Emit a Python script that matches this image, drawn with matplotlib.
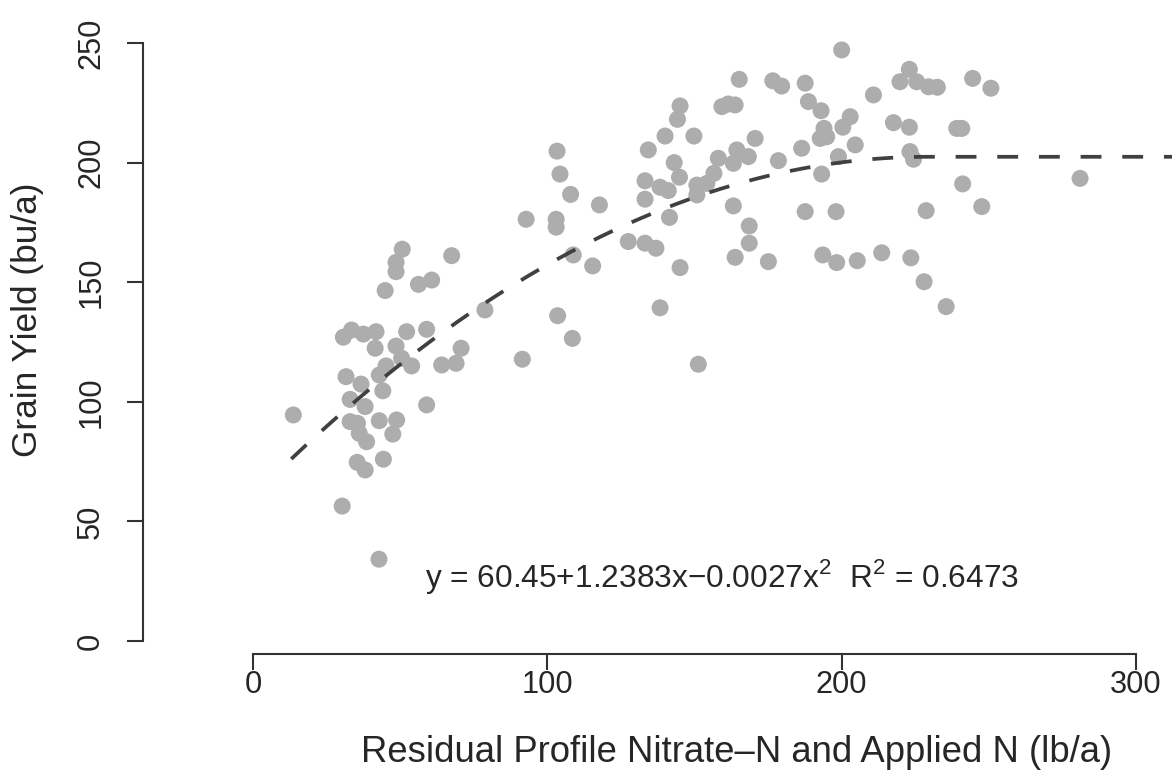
import matplotlib
matplotlib.use("Agg")
import matplotlib.pyplot as plt
from matplotlib import font_manager
import numpy as np

# ---- data ----
x_n = [50.7, 48.6, 48.6, 67.5, 44.9, 56.2, 60.7, 78.8, 30.7, 33.5,
       37.5, 41.8, 52.2, 59.0, 41.5, 48.6, 70.7, 50.5, 53.9, 64.1,
       69.0, 45.2, 42.9, 31.6, 36.7, 44.1, 33.0, 38.1, 59.0, 13.7,
       33.0, 35.5, 42.9, 48.8, 36.1, 47.5, 38.6, 44.3, 35.4, 38.1,
       30.3, 42.8,
       104.3, 133.2, 144.9, 138.3, 141.1, 150.8, 150.8, 107.9, 117.7, 133.2,
       92.8, 103.0, 103.0, 141.5, 127.5, 133.2, 136.9, 108.8, 115.4, 145.1,
       138.3, 103.5, 108.5, 91.5, 151.3, 103.3,
       200.0, 165.2, 176.6, 179.6, 187.6, 145.1, 144.2, 159.3, 161.5, 163.8,
       188.7, 193.0, 140.0, 149.8, 134.3, 170.6, 186.4, 194.0, 192.7, 194.9,
       143.1, 158.1, 164.4, 163.2, 168.3, 178.5, 154.2, 156.6, 163.2, 168.6,
       168.6, 193.2, 187.6, 198.1, 163.8, 175.1, 193.6, 198.3,
       223.0, 219.8, 225.5, 229.5, 232.5, 244.5, 250.7, 210.8, 202.9, 200.4,
       217.6, 223.0, 239.1, 240.8, 204.6, 198.9, 223.2, 224.4, 241.1, 228.7,
       247.6, 205.3, 213.6, 223.5, 228.0, 235.5, 281.0]
y_yield = [163.8, 158.3, 154.4, 161.1, 146.5, 149.1, 150.9, 138.4, 127.0, 130.0,
           128.3, 129.3, 129.3, 130.3, 122.4, 123.3, 122.4, 118.2, 115.0, 115.4,
           116.1, 115.0, 111.2, 110.5, 107.4, 104.6, 101.0, 98.0, 98.7, 94.5,
           91.7, 91.0, 92.1, 92.4, 86.8, 86.5, 83.3, 76.0, 74.7, 71.5,
           56.4, 34.2,
           195.2, 192.4, 193.9, 189.7, 188.3, 190.6, 186.5, 186.7, 182.3, 184.7,
           176.3, 176.3, 173.0, 177.1, 167.0, 166.3, 164.2, 161.4, 156.8, 156.1,
           139.3, 136.0, 126.5, 117.8, 115.7, 204.8,
           247.1, 234.8, 234.2, 232.0, 233.2, 223.7, 218.1, 223.4, 224.5, 224.1,
           225.5, 221.7, 211.1, 211.1, 205.3, 210.1, 206.0, 214.3, 210.1, 210.8,
           200.0, 201.8, 205.3, 199.7, 202.5, 200.8, 191.3, 195.5, 181.9, 173.5,
           166.3, 195.2, 179.5, 179.5, 160.4, 158.6, 161.4, 158.2,
           239.0, 233.8, 233.8, 231.7, 231.5, 235.2, 231.1, 228.3, 219.2, 214.8,
           216.7, 214.8, 214.3, 214.3, 207.4, 202.5, 204.6, 201.4, 191.1, 179.9,
           181.6, 159.0, 162.3, 160.2, 150.2, 139.8, 193.4]

# fitted quadratic-plateau model (from the equation shown)
b0, b1, b2 = 60.45, 1.2383, -0.0027
fit_start, fit_end = 13.0, 330.0
equation = "y = 60.45+1.2383x\u22120.0027x$^2$  R$^2$ = 0.6473"

x_ticks = [0, 100, 200, 300]
y_ticks = [0, 50, 100, 150, 200, 250]
x_label = "Residual Profile Nitrate\u2013N and Applied N (lb/a)"
y_label = "Grain Yield (bu/a)"

# ---- style ----
names = {f.name for f in font_manager.fontManager.ttflist}
narrow = 'Liberation Sans Narrow' in names
fam = 'Liberation Sans Narrow' if narrow else 'Liberation Sans'
plt.rcParams['font.family'] = [fam, 'DejaVu Sans']
plt.rcParams['mathtext.fontset'] = 'custom'
plt.rcParams['mathtext.rm'] = fam
plt.rcParams['lines.scale_dashes'] = False
k = 1.0 if narrow else 0.82
txt = '#262626'
axc = '#333333'

fig = plt.figure(figsize=(11.72, 7.83), dpi=100)
W, H = 1172, 783
L, R, B, T = 143, 1172, 654, 20
ax = fig.add_axes([L / W, 1 - B / H, (R - L) / W, (B - T) / H])

# pixel mapping: x=0 -> 253, x=300 -> 1136 ; y=0 -> 641, y=250 -> 43
sx = (1136 - 253) / 300.0
sy = (641 - 43) / 250.0
ax.set_xlim((L - 253) / sx, (R - 253) / sx)
ax.set_ylim((641 - B) / sy, (641 - T) / sy)

ax.scatter(x_n, y_yield, s=150, color='#adadad', edgecolors='none', zorder=2)

xf = np.linspace(fit_start, fit_end, 400)
xmax = -b1 / (2 * b2)
yf = np.where(xf < xmax, b0 + b1 * xf + b2 * xf ** 2, b0 + b1 * xmax + b2 * xmax ** 2)
ax.plot(xf, yf, color='#404040', lw=2.7, dashes=(15, 15), zorder=3,
        solid_capstyle='butt', dash_capstyle='butt')

for s in ['top', 'right']:
    ax.spines[s].set_visible(False)
ax.spines['left'].set_bounds(0, 250)
ax.spines['bottom'].set_bounds(0, 300)
for s in ['left', 'bottom']:
    ax.spines[s].set_color(axc)
    ax.spines[s].set_linewidth(1.5)

ax.set_xticks(x_ticks)
ax.set_yticks(y_ticks)
ax.tick_params(axis='both', direction='out', length=11.5, width=1.5, color=axc,
               labelsize=27 * k, labelcolor=txt)
ax.tick_params(axis='x', pad=0)
ax.tick_params(axis='y', pad=15)
for lab in ax.get_yticklabels():
    lab.set_rotation(90)
    lab.set_va('center')

fig.text(737 / W, 1 - 752 / H, x_label, fontsize=32 * k, color=txt,
         ha='center', va='center')
fig.text(28 / W, 1 - 320 / H, y_label, fontsize=31 * k, color=txt,
         ha='center', va='center', rotation=90)

ax.text((722 - 253) / sx, (641 - 577) / sy, equation, fontsize=27.8 * k,
        color=txt, ha='center', va='center')

fig.savefig('out.png', dpi=100)
